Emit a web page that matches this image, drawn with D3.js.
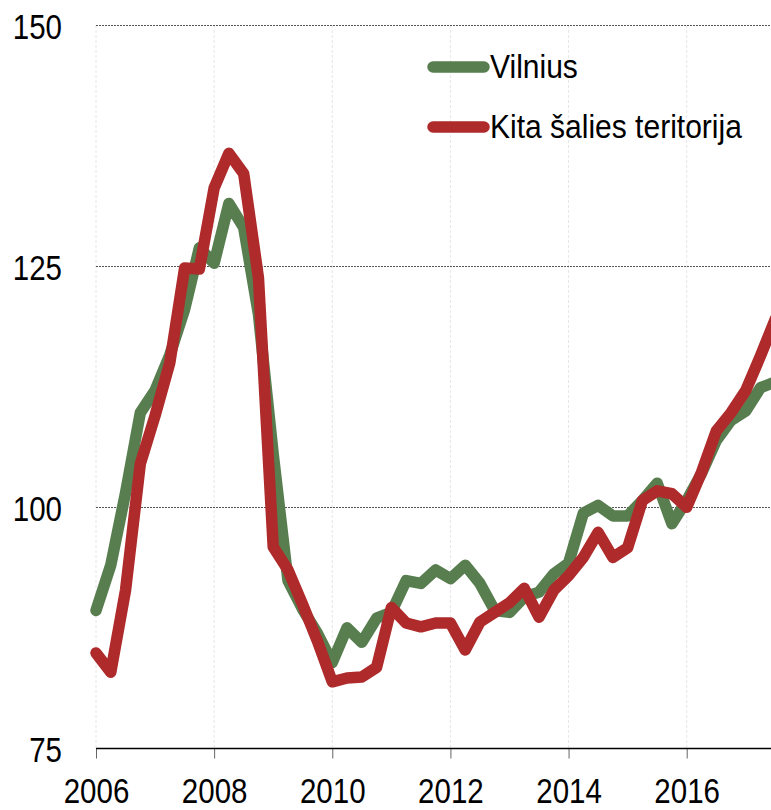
<!DOCTYPE html>
<html>
<head>
<meta charset="utf-8">
<script src="https://cdn.jsdelivr.net/npm/d3@7"></script>
<style>
  html, body { margin: 0; padding: 0; background: #fff; overflow: hidden; }
  svg { display: block; }
  text { font-family: "Liberation Sans", Arial, sans-serif; fill: #000; }
</style>
</head>
<body>
<svg id="chart" width="771" height="810"></svg>
<script>
const quarters = [
  "2006 Q1","2006 Q2","2006 Q3","2006 Q4",
  "2007 Q1","2007 Q2","2007 Q3","2007 Q4",
  "2008 Q1","2008 Q2","2008 Q3","2008 Q4",
  "2009 Q1","2009 Q2","2009 Q3","2009 Q4",
  "2010 Q1","2010 Q2","2010 Q3","2010 Q4",
  "2011 Q1","2011 Q2","2011 Q3","2011 Q4",
  "2012 Q1","2012 Q2","2012 Q3","2012 Q4",
  "2013 Q1","2013 Q2","2013 Q3","2013 Q4",
  "2014 Q1","2014 Q2","2014 Q3","2014 Q4",
  "2015 Q1","2015 Q2","2015 Q3","2015 Q4",
  "2016 Q1","2016 Q2","2016 Q3","2016 Q4",
  "2017 Q1","2017 Q2","2017 Q3"
];
const vilnius = [
  89.3, 94.0, 101.5, 109.8, 112.1, 115.8, 120.5, 126.9,
  125.3, 131.5, 129.0, 120.0, 105.5, 92.4, 89.4, 86.9,
  83.9, 87.5, 86.0, 88.5, 89.1, 92.4, 92.1, 93.5,
  92.6, 94.0, 92.1, 89.3, 89.1, 90.7, 91.2, 93.1,
  94.2, 99.4, 100.2, 99.1, 99.1, 100.7, 102.5, 98.3,
  100.7, 103.5, 106.9, 109.0, 110.0, 112.4, 113.0
];
const kitaTeritorija = [
  84.9, 82.9, 91.4, 104.5, 109.5, 115.0, 124.8, 124.7,
  133.1, 136.7, 134.6, 123.8, 95.9, 93.5, 89.9, 86.1,
  81.9, 82.3, 82.4, 83.4, 89.6, 88.0, 87.6, 88.0,
  88.0, 85.2, 88.1, 89.1, 90.1, 91.6, 88.6, 91.4,
  92.9, 94.8, 97.4, 94.8, 95.8, 100.7, 101.7, 101.4,
  100.0, 103.6, 107.9, 109.8, 112.1, 115.7, 119.5
];
const yTicks = [75, 100, 125, 150];
const xTicks = [2006, 2008, 2010, 2012, 2014, 2016];
const seriesNames = ["Vilnius", "Kita šalies teritorija"];
const seriesColors = ["#587e50", "#ae2a2b"];

const svg = d3.select("#chart");
const W = 771;
const NARROW = 0.82;   // emulate a narrow sans face for tick labels
const LEG_NARROW = 0.91;

const qToYear = q => +q.slice(0, 4) + (+q.slice(6) - 1) / 4;

const x = d3.scaleLinear().domain([2006, 2016]).range([96, 686.7]);
const y = d3.scaleLinear().domain([75, 150]).range([748.4, 25]);

// vertical faint gridlines
svg.append("g").selectAll("line").data(xTicks).join("line")
  .attr("x1", d => x(d)).attr("x2", d => x(d))
  .attr("y1", y(150)).attr("y2", y(75))
  .attr("stroke", "#e6e6e6").attr("stroke-width", 1)
  .attr("stroke-dasharray", "3,2");

// horizontal dotted gridlines
svg.append("g").selectAll("line").data(yTicks.filter(d => d > 75)).join("line")
  .attr("x1", x(2006)).attr("x2", W)
  .attr("y1", d => Math.round(y(d)) + 0.5).attr("y2", d => Math.round(y(d)) + 0.5)
  .attr("stroke", "#555").attr("stroke-width", 1)
  .attr("stroke-dasharray", "2,1");

// x axis
const xAxis = d3.axisBottom(x).tickValues(xTicks).tickFormat(d3.format("d"))
  .tickSize(10);
const axisY = Math.round(y(75)) + 0.5;
const gx = svg.append("g").attr("transform", `translate(0,${axisY})`).call(xAxis);
gx.select(".domain").remove();
gx.append("line").attr("x1", x(2006)).attr("x2", W).attr("y1", 0).attr("y2", 0)
  .attr("stroke", "#000").attr("stroke-width", 1.5);
gx.selectAll(".tick line").attr("stroke", "#666");
gx.selectAll(".tick text")
  .attr("x", null).attr("y", null).attr("dy", null)
  .attr("font-size", 36).attr("fill", "#000").attr("text-anchor", "middle")
  .attr("transform", `translate(0,${803 - axisY}) scale(${NARROW},1)`);

// y axis labels
const yAxis = d3.axisLeft(y).tickValues(yTicks).tickSize(0);
const gy = svg.append("g").attr("transform", "translate(62,0)").call(yAxis);
gy.select(".domain").remove();
gy.selectAll(".tick text")
  .attr("x", null).attr("y", null).attr("dy", null)
  .attr("font-size", 36).attr("fill", "#000").attr("text-anchor", "end")
  .attr("transform", `translate(0,13) scale(${NARROW},1)`);

// lines
const line = d3.line()
  .x((d, i) => x(qToYear(quarters[i])))
  .y(d => y(d));

const series = [vilnius, kitaTeritorija];
svg.append("g").selectAll("path").data(series).join("path")
  .attr("d", d => line(d))
  .attr("fill", "none")
  .attr("stroke", (d, i) => seriesColors[i])
  .attr("stroke-width", 11.5)
  .attr("stroke-linejoin", "round")
  .attr("stroke-linecap", "round");

// legend
const legend = svg.append("g");
const legY = [67, 127];
seriesNames.forEach((name, i) => {
  legend.append("line")
    .attr("x1", 433).attr("x2", 484)
    .attr("y1", legY[i]).attr("y2", legY[i])
    .attr("stroke", seriesColors[i]).attr("stroke-width", 11.5)
    .attr("stroke-linecap", "round");
  legend.append("text")
    .attr("transform", `translate(490,${legY[i] + 11}) scale(${LEG_NARROW},1)`)
    .attr("font-size", 33)
    .text(name);
});
</script>
</body>
</html>
